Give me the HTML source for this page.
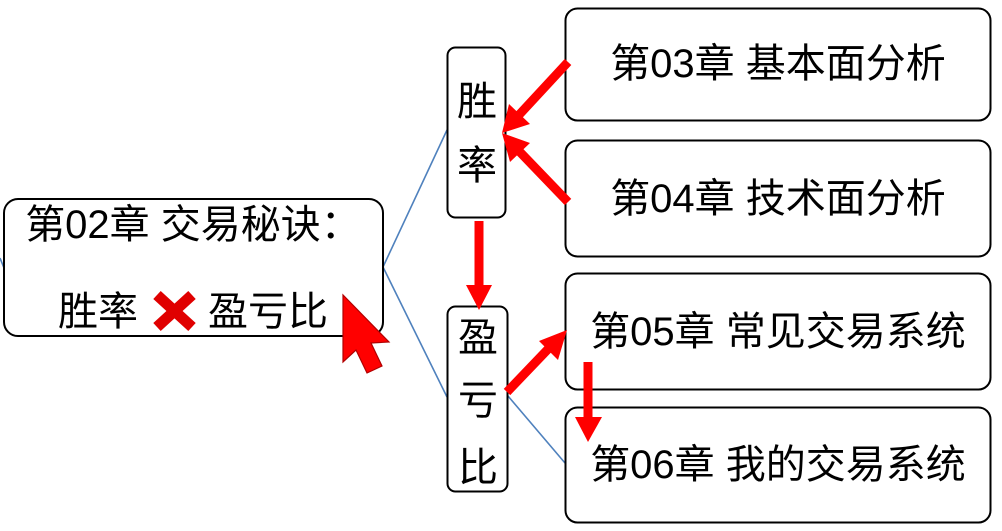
<!DOCTYPE html>
<html>
<head>
<meta charset="utf-8">
<style>
  html, body { margin: 0; padding: 0; background: #ffffff; }
  body { width: 1002px; height: 531px; overflow: hidden; }
  svg { display: block; }
  text { font-family: "Liberation Sans", "Noto Sans CJK SC", sans-serif; font-size: 40px; fill: #000; }
</style>
</head>
<body>
<svg width="1002" height="531" viewBox="0 0 1002 531" xmlns="http://www.w3.org/2000/svg">
  <!-- blue connectors -->
  <g stroke="#4F81BD" stroke-width="1.6" fill="none">
    <line x1="0" y1="258" x2="4" y2="268"/>
    <line x1="383" y1="267" x2="447" y2="130"/>
    <line x1="383" y1="267" x2="447" y2="397"/>
    <line x1="508" y1="396" x2="565" y2="463"/>
  </g>

  <!-- main box -->
  <rect x="4" y="199" width="379" height="137" rx="14" ry="14" fill="#fff" stroke="#000" stroke-width="2"/>
  <text x="193" y="238" text-anchor="middle">第02章 交易秘诀：</text>
  <text x="58" y="325">胜率</text>
  <g stroke="#E00000" stroke-width="11" stroke-linecap="butt">
    <line x1="157" y1="295" x2="192" y2="327"/>
    <line x1="192" y1="295" x2="157" y2="327"/>
  </g>
  <text x="208" y="325">盈亏比</text>

  <!-- vertical boxes -->
  <rect x="447.5" y="47.5" width="58" height="170" rx="8" ry="8" fill="#fff" stroke="#000" stroke-width="2"/>
  <text x="477" y="115" text-anchor="middle">胜</text>
  <text x="477" y="179" text-anchor="middle">率</text>

  <rect x="447.5" y="306.5" width="60" height="185" rx="8" ry="8" fill="#fff" stroke="#000" stroke-width="2"/>
  <text x="478" y="351" text-anchor="middle">盈</text>
  <text x="478" y="414" text-anchor="middle">亏</text>
  <text x="478" y="481" text-anchor="middle">比</text>

  <!-- right boxes -->
  <rect x="565.5" y="8.5" width="425" height="112" rx="12" ry="12" fill="#fff" stroke="#000" stroke-width="2"/>
  <text x="778" y="77" text-anchor="middle">第03章 基本面分析</text>

  <rect x="565.5" y="140.5" width="425" height="116" rx="12" ry="12" fill="#fff" stroke="#000" stroke-width="2"/>
  <text x="778" y="212" text-anchor="middle">第04章 技术面分析</text>

  <rect x="565.5" y="273.5" width="425" height="116" rx="12" ry="12" fill="#fff" stroke="#000" stroke-width="2"/>
  <text x="778" y="345" text-anchor="middle">第05章 常见交易系统</text>

  <rect x="565.5" y="407.5" width="425" height="115" rx="12" ry="12" fill="#fff" stroke="#000" stroke-width="2"/>
  <text x="778" y="478" text-anchor="middle">第06章 我的交易系统</text>

  <!-- red arrows -->
  <g fill="#FF0000" stroke="none">
    <!-- box1 -> 胜率 -->
    <line x1="568" y1="62" x2="518" y2="116" stroke="#FF0000" stroke-width="9"/>
    <polygon points="502,133 509,104 530,124"/>
    <!-- box2 -> 胜率 -->
    <line x1="568" y1="202" x2="518" y2="150" stroke="#FF0000" stroke-width="9"/>
    <polygon points="502,133 530,143 510,162"/>
    <!-- 胜率 -> 盈亏比 -->
    <line x1="479" y1="221" x2="479" y2="287" stroke="#FF0000" stroke-width="9"/>
    <polygon points="466,285 492,285 479,310"/>
    <!-- 盈亏比 -> box3 -->
    <line x1="507" y1="392" x2="551" y2="346" stroke="#FF0000" stroke-width="9"/>
    <polygon points="567,330 539,341 558,360"/>
    <!-- box3 -> box4 -->
    <line x1="588" y1="362" x2="588" y2="419" stroke="#FF0000" stroke-width="9"/>
    <polygon points="575,417 602,417 588,442"/>
  </g>

  <!-- cursor -->
  <polygon points="343,295 343,362 356,350 367,373 382,366 371,343 389,342" fill="#FF0000" stroke="#B00000" stroke-width="1.2" stroke-linejoin="miter"/>
</svg>
</body>
</html>
